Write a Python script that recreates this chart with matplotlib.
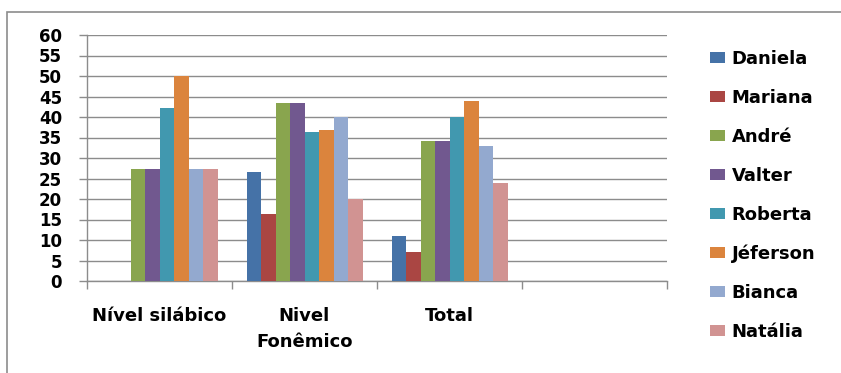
import matplotlib.pyplot as plt
import numpy as np
from matplotlib.patches import Rectangle

# categories (4th slot is left empty in the original chart)
categories = ["Nível silábico", "Nivel\nFonêmico", "Total", ""]
names = ["Daniela", "Mariana", "André", "Valter", "Roberta", "Jéferson", "Bianca", "Natália"]
colors = ["#4572A7", "#AA4643", "#89A54E", "#71588F", "#4198AF", "#DB843D", "#93A9CF", "#D19392"]

daniela = [0, 26.6, 11.0]
mariana = [0, 16.4, 7.0]
andre = [27.3, 43.3, 34.1]
valter = [27.3, 43.3, 34.1]
roberta = [42.3, 36.4, 40.0]
jeferson = [50.0, 36.8, 44.0]
bianca = [27.3, 40.0, 32.9]
natalia = [27.3, 20.0, 24.0]
series = [daniela, mariana, andre, valter, roberta, jeferson, bianca, natalia]

yticks = list(range(0, 61, 5))

fig = plt.figure(figsize=(8.41, 3.73), dpi=100)
ax = fig.add_axes([87 / 841, 1 - 281 / 373, 580 / 841, 246 / 373])

grid_col = "#8c8c8c"
bar_w = 0.1
x = np.arange(len(series[0]))
for j, (vals, name, col) in enumerate(zip(series, names, colors)):
    ax.bar(x + 0.1 + j * bar_w, vals, bar_w, align="edge", color=col,
           label=name, zorder=3, linewidth=0)

ax.set_xlim(0, len(categories))
ax.set_ylim(0, 60)
ax.set_yticks(yticks)
ax.set_yticklabels([str(t) for t in yticks], fontsize=12, fontweight="bold")
ax.yaxis.grid(True, color=grid_col, linewidth=1, zorder=0)
ax.tick_params(axis="y", length=6, width=1, color=grid_col, pad=12)

ax.set_xticks(np.arange(len(categories) + 1))
ax.set_xticklabels([])
ax.set_xticks(np.arange(len(categories)) + 0.5, minor=True)
ax.set_xticklabels(categories, minor=True, fontsize=13, fontweight="bold",
                   linespacing=1.55)
ax.tick_params(axis="x", which="major", length=6, width=1, color=grid_col)
ax.tick_params(axis="x", which="minor", length=0, pad=19)

for side in ["top", "right"]:
    ax.spines[side].set_visible(False)
for side in ["left", "bottom"]:
    ax.spines[side].set_color(grid_col)
    ax.spines[side].set_linewidth(1)

fig.legend(loc="upper left", bbox_to_anchor=(710 / 841, 1 - 50 / 373),
           frameon=False, prop={"weight": "bold", "size": 13},
           handlelength=0.85, handleheight=0.55, handletextpad=0.35,
           labelspacing=1.16, borderpad=0, borderaxespad=0)

# outer chart frame (partly cut off in the original)
fig.patches.append(Rectangle((7 / 841, -0.1), 1.2, 1 - 12 / 373 + 0.1,
                             transform=fig.transFigure, fill=False,
                             edgecolor="#8c8c8c", linewidth=1.2))

fig.savefig("out.png", dpi=100)
